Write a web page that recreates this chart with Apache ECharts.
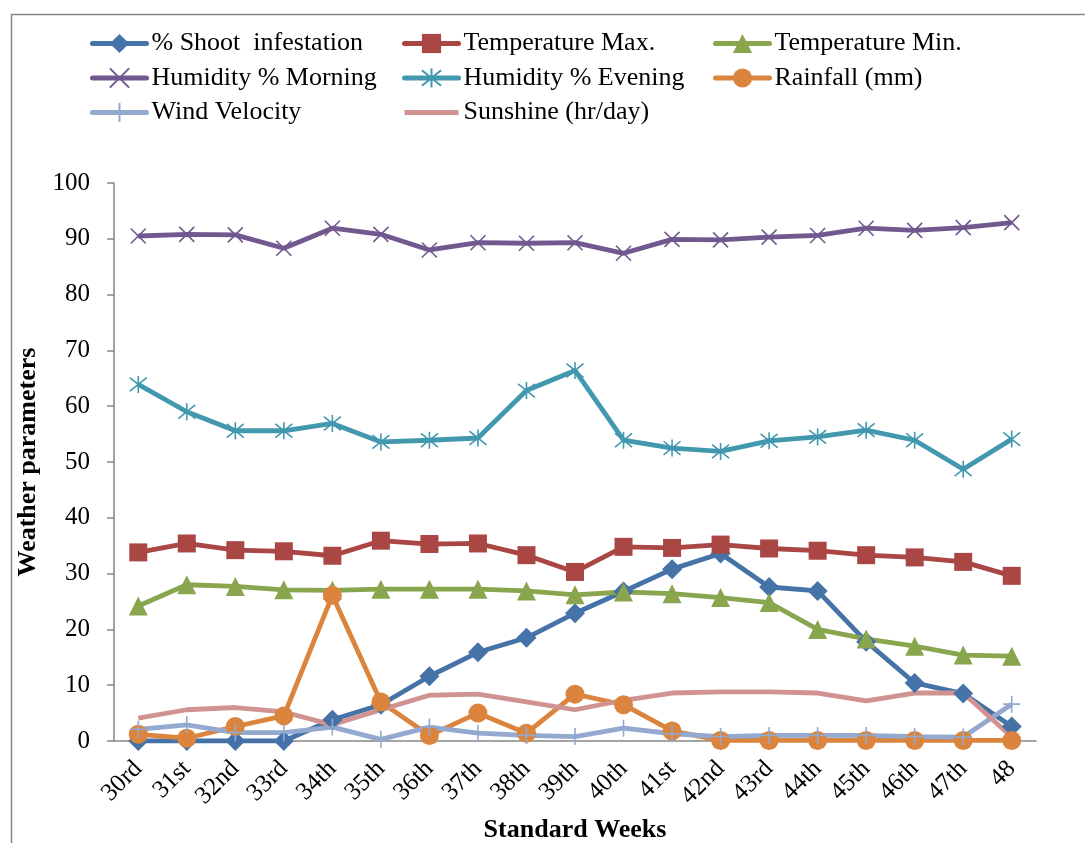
<!DOCTYPE html>
<html>
<head>
<meta charset="utf-8">
<title>Weather parameters</title>
<script src="https://cdn.jsdelivr.net/npm/echarts@6/dist/echarts.min.js"></script>
<style>
html, body { margin: 0; padding: 0; background: #fff; }
#main { width: 1085px; height: 843px; }
</style>
</head>
<body>
<div id="main"></div>
<script>
var weeks = ['30rd','31st','32nd','33rd','34th','35th','36th','37th','38th','39th','40th','41st','42nd','43rd','44th','45th','46th','47th','48'];

var shootInfestation = [0, 0, 0, 0, 3.8, 6.5, 11.6, 15.9, 18.5, 22.9, 26.8, 30.8, 33.6, 27.6, 26.9, 17.8, 10.4, 8.5, 2.6];
var tempMax = [33.8, 35.4, 34.2, 34.0, 33.2, 35.9, 35.3, 35.4, 33.3, 30.3, 34.8, 34.6, 35.2, 34.5, 34.1, 33.3, 32.9, 32.1, 29.6];
var tempMin = [24.2, 28.0, 27.7, 27.1, 27.0, 27.2, 27.2, 27.2, 26.9, 26.2, 26.7, 26.4, 25.7, 24.8, 20.0, 18.3, 17.0, 15.4, 15.2];
var humMorning = [90.5, 90.8, 90.7, 88.3, 91.9, 90.8, 88.0, 89.3, 89.2, 89.3, 87.4, 89.9, 89.8, 90.3, 90.6, 91.9, 91.5, 92.0, 92.9];
var humEvening = [63.9, 59.0, 55.6, 55.6, 56.9, 53.6, 53.9, 54.3, 62.8, 66.4, 53.9, 52.5, 51.9, 53.8, 54.5, 55.7, 53.9, 48.7, 54.1];
var rainfall = [1.2, 0.5, 2.6, 4.5, 26.1, 7.0, 1.0, 5.0, 1.4, 8.4, 6.5, 1.8, 0.1, 0.1, 0.1, 0.1, 0.1, 0.1, 0.1];
var windVelocity = [2.1, 2.9, 1.5, 1.5, 2.5, 0.3, 2.5, 1.4, 1.0, 0.8, 2.3, 1.3, 0.8, 1.0, 1.0, 1.0, 0.8, 0.7, 6.6];
var sunshine = [4.1, 5.6, 6.0, 5.2, 2.9, 5.6, 8.2, 8.4, 7.0, 5.6, 7.3, 8.6, 8.8, 8.8, 8.6, 7.2, 8.6, 8.6, 0.7];

var yTicks = [0, 10, 20, 30, 40, 50, 60, 70, 80, 90, 100];

var serif = '"Liberation Serif", "DejaVu Serif", serif';

// open marks (x, asterisk, plus) are drawn as strokes
var crossPath = 'path://M0,0L10,10M10,0L0,10';
var starPath = 'path://M0,1L10,9M10,1L0,9M5,0L5,10';
var plusPath = 'path://M0,5L10,5M5,0L5,10';
var barPath = 'path://M0,0L54,0L54,5L0,5Z';

function lineSeries(name, data, color, symbol, size, open) {
	return {
		name: name,
		type: 'line',
		data: data,
		symbol: symbol,
		symbolSize: size,
		lineStyle: { color: color, width: 4.8 },
		itemStyle: open ? { color: color, borderColor: color, borderWidth: 1.6 } : { color: color, borderWidth: 0 }
	};
}

var chart = echarts.init(document.getElementById('main'));

var legendText = { fontFamily: serif, fontSize: 26, lineHeight: 27, color: '#000' };
function legendCol(left, names) {
	return {
		orient: 'vertical',
		left: left,
		top: 25,
		itemWidth: 54,
		itemHeight: 24,
		itemGap: 7.5,
		textStyle: legendText,
		lineStyle: { width: 5, cap: 'round' },
		data: names
	};
}

var option = {
	animation: false,
	backgroundColor: '#fff',
	graphic: [{
		type: 'rect',
		left: 9, top: 12,
		shape: { width: 1100, height: 860 },
		style: { fill: 'none', stroke: '#868686', lineWidth: 1.5 },
		silent: true
	}],
	legend: [
		legendCol(85, ['% Shoot  infestation', 'Humidity % Morning', 'Wind Velocity']),
		legendCol(397, ['Temperature Max.', 'Humidity % Evening', { name: 'Sunshine (hr/day)', icon: barPath }]),
		legendCol(708, ['Temperature Min.', 'Rainfall (mm)'])
	],
	grid: { left: 114, right: 49, top: 183, bottom: 102, outerBoundsMode: 'none' },
	xAxis: {
		type: 'category',
		data: weeks,
		name: 'Standard Weeks',
		nameLocation: 'middle',
		nameGap: 76,
		nameTextStyle: { fontFamily: serif, fontSize: 26, fontWeight: 'bold', color: '#000' },
		axisLine: { lineStyle: { color: '#868686', width: 1.5 } },
		axisTick: { length: 6, lineStyle: { color: '#868686', width: 1.5 } },
		axisLabel: { rotate: 45, fontFamily: serif, fontSize: 25, color: '#000', margin: 24, interval: 0 }
	},
	yAxis: {
		type: 'value',
		min: yTicks[0],
		max: yTicks[yTicks.length - 1],
		interval: yTicks[1] - yTicks[0],
		name: 'Weather parameters',
		nameLocation: 'middle',
		nameGap: 64,
		nameTextStyle: { fontFamily: serif, fontSize: 26, fontWeight: 'bold', color: '#000' },
		axisLine: { show: true, lineStyle: { color: '#868686', width: 1.5 } },
		axisTick: { show: true, length: 7, lineStyle: { color: '#868686', width: 1.5 } },
		axisLabel: { fontFamily: serif, fontSize: 25, color: '#000', margin: 24 },
		splitLine: { show: false }
	},
	series: [
		lineSeries('% Shoot  infestation', shootInfestation, '#4572A7', 'diamond', 20, false),
		lineSeries('Temperature Max.', tempMax, '#AA4643', 'rect', 18, false),
		lineSeries('Temperature Min.', tempMin, '#89A54E', 'triangle', 19, false),
		lineSeries('Humidity % Morning', humMorning, '#71588F', crossPath, 15, true),
		lineSeries('Humidity % Evening', humEvening, '#4198AF', starPath, 17, true),
		lineSeries('Rainfall (mm)', rainfall, '#DB843D', 'circle', 19, false),
		lineSeries('Wind Velocity', windVelocity, '#93A9CF', plusPath, 17, true),
		lineSeries('Sunshine (hr/day)', sunshine, '#D19392', 'none', 1, false)
	]
};

chart.setOption(option);
</script>
</body>
</html>
